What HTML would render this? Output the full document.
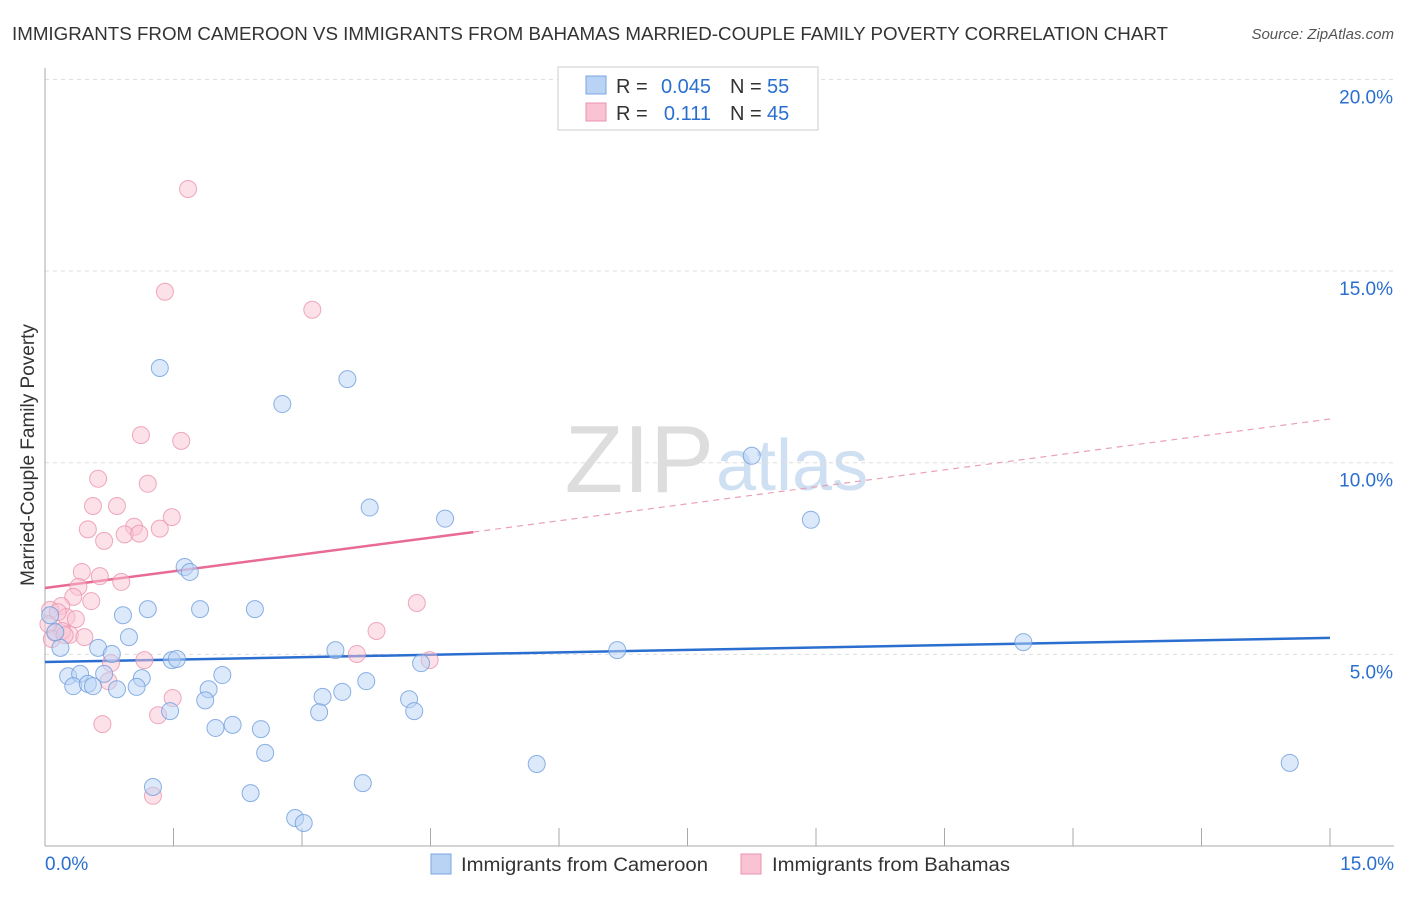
<!DOCTYPE html>
<html><head><meta charset="utf-8">
<style>
body{margin:0;background:#fff;font-family:"Liberation Sans",sans-serif;}
svg text{font-family:"Liberation Sans",sans-serif;}
</style></head>
<body>
<svg id="chart" width="1406" height="892" xmlns="http://www.w3.org/2000/svg">
<text x="12" y="40" font-size="18" fill="#333" textLength="1156" lengthAdjust="spacingAndGlyphs">IMMIGRANTS FROM CAMEROON VS IMMIGRANTS FROM BAHAMAS MARRIED-COUPLE FAMILY POVERTY CORRELATION CHART</text>
<text x="1394" y="39" font-size="15" fill="#555" font-style="italic" text-anchor="end">Source: ZipAtlas.com</text>
<text x="714" y="492" font-size="96" fill="#ddd" text-anchor="end" font-family="Liberation Serif">ZIP</text>
<text x="716" y="490" font-size="72" fill="#cfe0f3">atlas</text>
<text transform="translate(34,455) rotate(-90)" font-size="19" fill="#333" text-anchor="middle">Married-Couple Family Poverty</text>
<g id="grid"></g><g id="axes"></g><g id="lines"></g><g id="points"></g>
<g>
<rect x="558" y="67" width="260" height="63" fill="#fff" stroke="#ccc"/>
<rect x="586" y="76" width="20" height="18" fill="#b9d3f5" stroke="#7aa5df"/>
<rect x="586" y="103" width="20" height="18" fill="#f9c3d3" stroke="#eb93ad"/>
<text x="616" y="93" font-size="20" fill="#333">R =</text>
<text x="711" y="93" font-size="20" fill="#2a6fd0" text-anchor="end">0.045</text>
<text x="730" y="93" font-size="20" fill="#333">N =</text>
<text x="767" y="93" font-size="20" fill="#2a6fd0">55</text>
<text x="616" y="120" font-size="20" fill="#333">R =</text>
<text x="711" y="120" font-size="20" fill="#2a6fd0" text-anchor="end">0.111</text>
<text x="730" y="120" font-size="20" fill="#333">N =</text>
<text x="767" y="120" font-size="20" fill="#2a6fd0">45</text>
</g>
<g>
<rect x="431" y="854" width="20" height="20" fill="#b9d3f5" stroke="#7aa5df"/>
<text x="461" y="871" font-size="19" fill="#333" textLength="247" lengthAdjust="spacingAndGlyphs">Immigrants from Cameroon</text>
<rect x="741" y="854" width="20" height="20" fill="#f9c3d3" stroke="#eb93ad"/>
<text x="772" y="871" font-size="19" fill="#333" textLength="238" lengthAdjust="spacingAndGlyphs">Immigrants from Bahamas</text>
</g>
</svg>
<script>
const xTicks=[0,1.5,3,4.5,6,7.5,9,10.5,12,13.5,15];
const yTicks=[5,10,15,20];
const yTickLabels=["5.0%","10.0%","15.0%","20.0%"];
const cameroonX=[1.34,3.53,2.77,8.25,3.79,4.67,8.94,1.63,1.69,1.2,1.81,2.45,0.91,0.98,11.42,6.68,3.39,0.18,0.62,0.78,1.48,1.54,4.39,0.27,0.41,0.69,1.13,2.07,3.75,0.33,0.5,0.56,0.84,1.07,1.91,3.24,3.47,1.87,4.25,1.46,3.2,4.31,1.99,2.19,2.52,2.57,5.74,14.53,1.26,3.71,2.4,2.92,3.02,0.12,0.06];
const cameroonY=[12.47,12.18,11.53,10.18,8.83,8.54,8.51,7.28,7.15,6.18,6.18,6.18,6.02,5.45,5.32,5.11,5.11,5.17,5.17,5.01,4.85,4.88,4.77,4.43,4.49,4.49,4.38,4.46,4.3,4.17,4.23,4.17,4.09,4.15,4.09,3.89,4.02,3.8,3.83,3.52,3.49,3.52,3.08,3.16,3.05,2.43,2.14,2.17,1.54,1.64,1.38,0.73,0.6,5.58,6.02];
const bahamasX=[1.67,1.4,3.12,1.12,1.59,0.62,1.2,0.56,0.84,1.48,0.5,1.04,0.93,1.1,1.34,0.69,0.43,0.64,0.89,0.39,0.33,0.54,0.19,0.06,0.25,4.34,3.87,0.29,0.46,0.12,0.2,0.77,1.16,3.64,4.49,0.74,1.49,1.32,0.67,1.26,0.04,0.08,0.15,0.23,0.36];
const bahamasY=[17.14,14.46,13.99,10.72,10.57,9.58,9.45,8.87,8.87,8.58,8.26,8.33,8.13,8.15,8.28,7.96,7.15,7.04,6.89,6.76,6.5,6.39,6.26,6.16,5.97,6.34,5.61,5.51,5.45,5.56,5.61,4.77,4.85,5.01,4.85,4.3,3.86,3.41,3.18,1.31,5.79,5.4,6.1,5.5,5.92];
const camTrend=[[0,4.8],[15,5.43]];
const bahTrendSolid=[[0,6.73],[5,8.19]];
const bahTrendDash=[[5,8.19],[15,11.14]];
const NS='http://www.w3.org/2000/svg';
const X0=45,X1=1330,Y0=846,PY=38.33;
const sx=v=>X0+(X1-X0)*v/15, sy=v=>Y0-v*PY;
function mk(tag,attrs,parent){const e=document.createElementNS(NS,tag);for(const k in attrs)e.setAttribute(k,attrs[k]);document.getElementById(parent).appendChild(e);return e;}
yTicks.forEach((t,i)=>{
 const g=mk('line',{x1:X0,x2:1394,y1:sy(t),y2:sy(t),stroke:'#ddd','stroke-dasharray':'4,4'},'grid');
 
 
 const tx=mk('text',{x:1393,y:sy(t)+24,'font-size':19,fill:'#2a6fd0','text-anchor':'end'},'axes');
 tx.textContent=yTickLabels[i];
 
 
});
const ax=mk('line',{x1:X0,x2:X0,y1:68,y2:Y0,stroke:'#aaa'},'axes');


const bx=mk('line',{x1:X0,x2:1394,y1:Y0,y2:Y0,stroke:'#aaa'},'axes');


xTicks.forEach(t=>{const l=mk('line',{x1:sx(t),x2:sx(t),y1:Y0,y2:Y0-18,stroke:'#aaa'},'axes');
 
 });
const xl0=mk('text',{x:45,y:870,'font-size':19,fill:'#2a6fd0'},'axes');xl0.textContent='0.0%';


const xl1=mk('text',{x:1394,y:870,'font-size':19,fill:'#2a6fd0','text-anchor':'end'},'axes');xl1.textContent='15.0%';


function pts(xs,ys,fill,stroke,name){xs.forEach((x,i)=>{const c=mk('circle',{cx:sx(x),cy:sy(ys[i]),r:8.5,fill:fill,'fill-opacity':0.5,stroke:stroke,'stroke-width':1,'stroke-opacity':0.8},'points');
 
 });}
pts(bahamasX,bahamasY,'#f9c3d3','#eb93ad','bahamas-point');
pts(cameroonX,cameroonY,'#b9d3f5','#6f9ddd','cameroon-point');
function ln(p,stroke,w,dash,name){const l=mk('line',{x1:sx(p[0][0]),y1:sy(p[0][1]),x2:sx(p[1][0]),y2:sy(p[1][1]),stroke:stroke,'stroke-width':w},'lines');if(dash)l.setAttribute('stroke-dasharray',dash);
 
 }
ln(camTrend,'#2a6fd0',2.5,null,'cameroon-trendline');
ln(bahTrendSolid,'#e86a95',2.5,null,'bahamas-trendline');
ln(bahTrendDash,'#e9a0b8',1.2,'6,5','bahamas-trendline-extension');
</script>
</body></html>
